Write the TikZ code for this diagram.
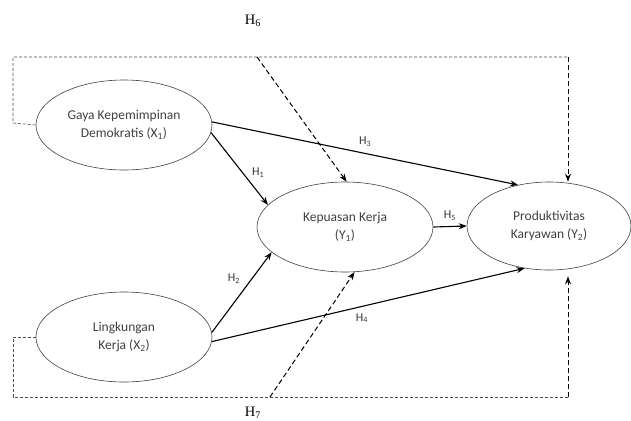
\documentclass[tikz,border=0pt]{standalone}
\usepackage{fontspec}
\setmainfont{Carlito}
\newfontfamily\serifH{Liberation Serif}
\usetikzlibrary{shapes.geometric,arrows.meta}
\begin{document}
\begin{tikzpicture}[x=1pt, y=-1pt, >={Stealth[length=8pt,width=6pt]}, line join=round,
		var/.style={draw=black!75, line width=0.6pt, ellipse, inner sep=0pt, minimum width=176pt, minimum height=90pt, align=center, font=\fontsize{13.5}{18}\selectfont, text=black!75},
		path/.style={->, line width=1.1pt},
		med/.style={->, dashed, line width=1pt, dash pattern=on 5pt off 3pt},
		frame/.style={dashed, black!70, line width=0.6pt, dash pattern=on 3pt off 2pt},
		hlab/.style={font=\fontsize{12}{13}\selectfont, text=black!80},
		hser/.style={font=\serifH\fontsize{14.5}{15}\selectfont}]
		\useasboundingbox (0,0) rectangle (631,420);
		% ==================== VARIABEL ====================
		\node[var] (x1) at (124,125) {Gaya Kepemimpinan\\Demokratis (X\textsubscript{1})};
		\node[var] (x2) at (124,337) {Lingkungan\\Kerja (X\textsubscript{2})};
		\node[var] (y1) at (345,227) {Kepuasan Kerja\\(Y\textsubscript{1})};
		\node[var, minimum width=164pt, minimum height=88pt] (y2) at (549,226) {Produktivitas\\Karyawan (Y\textsubscript{2})};
		% ==================== TITIK BINGKAI ====================
		\path (13,123) coordinate (tl)
		(13,57) coordinate (tt)
		(568,57) coordinate (tr)
		(13,337) coordinate (bl)
		(13,397) coordinate (bb)
		(568,397) coordinate (br)
		(257,57) coordinate (h6)
		(270,397) coordinate (h7);
		% ==================== PENGARUH LANGSUNG ====================
		\draw[path] (x1.-5) -- (y1.164) node[hlab, pos=0.55, right=6pt] {H\textsubscript{1}};
		\draw[path] (x2.3) -- (y1.199) node[hlab, pos=0.55, above left=1pt] {H\textsubscript{2}};
		\draw[path] (x1.2) -- (y2.127) node[hlab, pos=0.5, above=3pt] {H\textsubscript{3}};
		\draw[path] (x2.-3) -- (y2.240) node[hlab, pos=0.48, below=3pt] {H\textsubscript{4}};
		\draw[path] (y1.east) -- (y2.west) node[hlab, midway, above=2pt] {H\textsubscript{5}};
		% ==================== PENGARUH TIDAK LANGSUNG ====================
		\draw[frame] (x1.west) -- (tl) -- (tt) -- (tr);
		\draw[med] (tr) -- (tr |- y2.north);
		\draw[frame] (x2.west) -- (bl) -- (bb) -- (br);
		\draw[med] (br) -- ([yshift=-6pt]br |- y2.south);
		\draw[med] (h6) -- (y1.88);
		\draw[med] (h7) -- (y1.-78);
		\node[hser] (l6) at (253,21) {H\textsubscript{6}};
		\node[hser] (l7) at (253,413) {H\textsubscript{7}};
	\end{tikzpicture}
\end{document}
